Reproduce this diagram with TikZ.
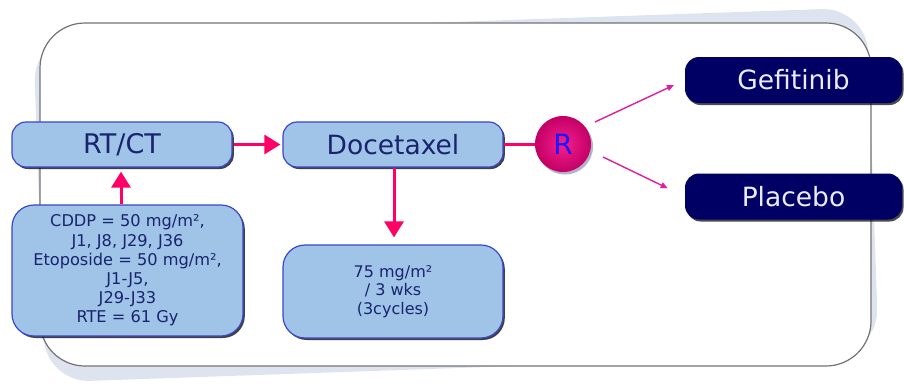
\documentclass[tikz,border=0pt]{standalone}
\usepackage{fontspec}
\setmainfont{DejaVu Sans}
\usetikzlibrary{arrows.meta,shadows,shadings}

\definecolor{boxfill}{RGB}{160,196,232}
\definecolor{boxline}{RGB}{60,70,200}
\definecolor{boxtext}{RGB}{25,35,110}
\definecolor{navy}{RGB}{0,0,100}
\definecolor{flow}{RGB}{255,0,102}
\definecolor{branch}{RGB}{225,30,160}
\definecolor{haze}{RGB}{221,228,239}
\definecolor{rtext}{RGB}{25,25,250}
\definecolor{ballin}{RGB}{245,30,145}
\definecolor{ballout}{RGB}{195,0,100}

\tikzset{
  lightbox/.style={draw=boxline, line width=1.2pt, fill=boxfill, text=boxtext,
    rounded corners=14pt, align=center, inner sep=0pt,
    drop shadow={shadow xshift=1.8pt, shadow yshift=-2pt, fill=black, opacity=0.75}},
  darkbox/.style={fill=navy, text=white!92!blue, rounded corners=14pt,
    minimum width=217pt, minimum height=46pt, inner sep=0pt,
    font=\fontsize{26.5}{30}\selectfont,
    drop shadow={shadow xshift=1.5pt, shadow yshift=-2pt, fill=black, opacity=0.7}},
  bigflow/.style={draw=flow, line width=3pt, -{Triangle[length=16pt,width=19pt]}},
  thinflow/.style={draw=branch, line width=1.4pt, -{Triangle[length=7pt,width=6pt]}},
}

\begin{document}
\begin{tikzpicture}[x=1pt,y=-1pt]
\useasboundingbox (0,0) rectangle (904,386);

% tilted backdrop behind the frame
\fill[haze, rotate around={2:(455,195)}, rounded corners=45pt]
  (39,22) rectangle (873,368);
% frame
\draw[gray!90!black, line width=1.2pt, fill=white, rounded corners=45pt]
  (40,23) rectangle (871,366);

% light boxes
\node[lightbox, minimum width=220pt, minimum height=45pt,
      font=\fontsize{27}{30}\selectfont] (rtct) at (122,144.5) {RT/CT};
\node[lightbox, minimum width=220pt, minimum height=45pt,
      font=\fontsize{26.5}{30}\selectfont] (doce) at (393,144.5) {Docetaxel};
\node[lightbox, minimum width=231pt, minimum height=131pt, rounded corners=22pt,
      font=\fontsize{16.2}{19.2}\selectfont] (chemo) at (127.5,270.5)
  {CDDP = 50 mg/m²,\\J1, J8, J29, J36\\Etoposide = 50 mg/m²,\\J1-J5,\\J29-J33\\RTE = 61 Gy};
\node[lightbox, minimum width=220pt, minimum height=93pt, rounded corners=22pt,
      font=\fontsize{16}{18.5}\selectfont] (dose) at (393,291.5)
  {75 mg/m²\\/ 3 wks\\(3cycles)};

% randomisation ball
\node[circle, minimum size=56pt, inner sep=0pt, inner color=ballin, outer color=ballout,
      text=rtext, font=\fontsize{28}{30}\selectfont,
      drop shadow={shadow xshift=2pt, shadow yshift=-2.5pt, fill=boxline!40!gray, opacity=0.5}]
  (R) at (563,144) {R};

% arms
\node[darkbox] (gef) at (793.5,80) {Gefitinib};
\node[darkbox] (plac) at (793.5,196.5) {Placebo};

% flow connectors
\draw[bigflow, shorten <=1pt, shorten >=2pt] (rtct.east) -- (doce.west);
\draw[bigflow, shorten >=4pt] ([xshift=-6.5pt]chemo.north) -- ([xshift=-1pt]rtct.south);
\draw[bigflow, shorten >=7pt] ([xshift=1pt]doce.south) -- ([xshift=1pt]dose.north);
\draw[flow, line width=3pt] (doce.east) -- (doce.east -| R.west);

\coordinate (up) at (595,122);
\coordinate (down) at (603,157);
\draw[thinflow, shorten >=12pt] (up) -- (gef.west);
\draw[thinflow, shorten >=19pt] (down) -- (plac.west);
\end{tikzpicture}
\end{document}
